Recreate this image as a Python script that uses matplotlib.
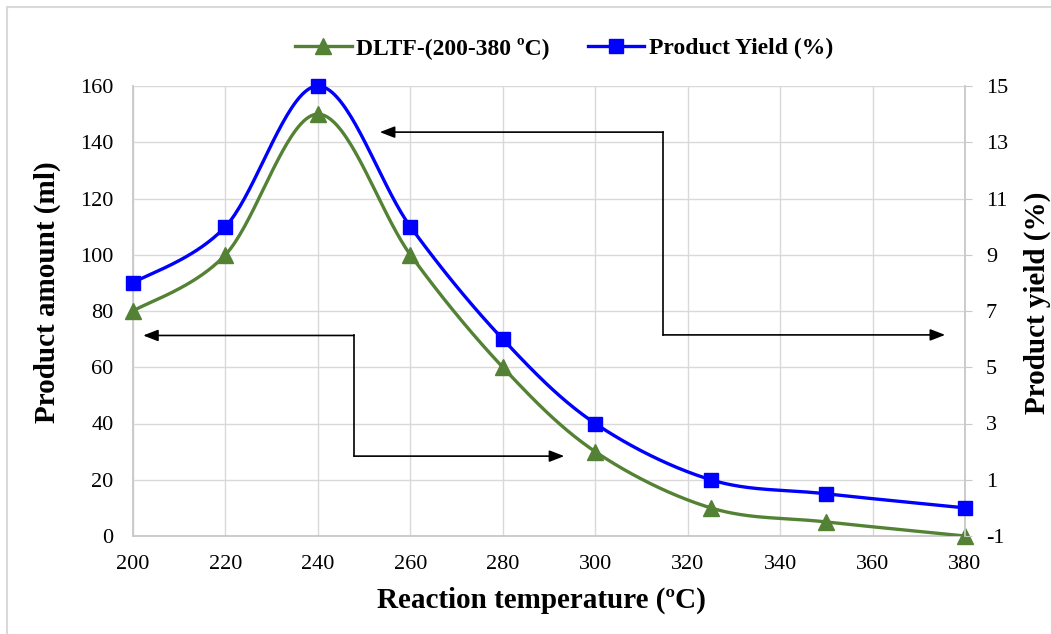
import numpy as np
import matplotlib
matplotlib.use("Agg")
import matplotlib.pyplot as plt
from matplotlib.lines import Line2D
from matplotlib.patches import Rectangle

plt.rcParams["axes.unicode_minus"] = False

# ---- data ----
temperature = [200, 220, 240, 260, 280, 300, 325, 350, 380]
dltf_amount = [80, 100, 150, 100, 60, 30, 10, 5, 0]          # ml (left axis)
product_yield = [8, 10, 15, 10, 6, 3, 1, 0.5, 0]             # % (right axis)
x_ticks = list(range(200, 381, 20))
left_ticks = list(range(0, 161, 20))
right_ticks = list(range(-1, 16, 2))

# annotation arrows (left-axis data coords): tail-corner path then tip
arrow1_path = [(247.8, 28.4), (247.8, 71.3)]
arrow1_tips = [((247.8, 71.3), (202.2, 71.3)), ((247.8, 28.4), (293.3, 28.4))]
arrow2_path = [(314.7, 143.6), (314.7, 71.5)]
arrow2_tips = [((314.7, 143.6), (253.4, 143.6)), ((314.7, 71.5), (375.7, 71.5))]

GREEN = "#548235"
BLUE = "#0000FF"
GRID = "#d9d9d9"
SERIF = "Liberation Serif"


def smooth(xs, ys, n=40):
    """Excel-like smoothing: Catmull-Rom cubic Bezier segments."""
    xs = np.asarray(xs, float)
    ys = np.asarray(ys, float)
    P = np.column_stack([xs, ys])
    out = []
    for i in range(len(P) - 1):
        p0 = P[i - 1] if i > 0 else P[i]
        p1 = P[i]
        p2 = P[i + 1]
        p3 = P[i + 2] if i + 2 < len(P) else P[i + 1]
        c1 = p1 + (p2 - p0) / 6.0
        c2 = p2 - (p3 - p1) / 6.0
        t = np.linspace(0, 1, n)[:, None]
        seg = ((1 - t) ** 3) * p1 + 3 * ((1 - t) ** 2) * t * c1 + 3 * (1 - t) * t ** 2 * c2 + t ** 3 * p2
        if i > 0:
            seg = seg[1:]
        out.append(seg)
    out = np.vstack(out)
    return out[:, 0], out[:, 1]


fig = plt.figure(figsize=(10.51, 6.34), dpi=100)
W, H = 1051, 634
ax = fig.add_axes([133 / W, 1 - 536 / H, (965 - 133) / W, (536 - 86) / H])
ax2 = ax.twinx()

# chart border
fig.patches.append(Rectangle((7 / W, -0.1), 1.2, 1 - 7 / H + 0.1, transform=fig.transFigure,
                             fill=False, edgecolor="#d9d9d9", lw=1.5, zorder=0))

ax.set_xlim(200, 380)
ax.set_ylim(0, 160)
ax2.set_ylim(-1, 15)

ax.set_xticks(x_ticks)
ax.set_yticks(left_ticks)
ax2.set_yticks(right_ticks)
ax.grid(True, color=GRID, lw=1.0)
ax.set_axisbelow(True)

for a in (ax, ax2):
    for s in a.spines.values():
        s.set_visible(False)
ax.spines["left"].set_visible(True)
ax.spines["left"].set_color("#c8c8c8")
ax.spines["left"].set_linewidth(1.3)
ax.spines["bottom"].set_visible(True)
ax.spines["bottom"].set_color("#c8c8c8")
ax.spines["bottom"].set_linewidth(1.3)
ax2.spines["right"].set_visible(True)
ax2.spines["right"].set_color("#c8c8c8")
ax2.spines["right"].set_linewidth(1.3)

ax.tick_params(axis="both", length=0, labelsize=16)
ax.tick_params(axis="y", pad=14)
ax.tick_params(axis="x", pad=14)
ax2.tick_params(axis="y", length=5, color="#c8c8c8", direction="out", labelsize=16, pad=10)
for lab in ax.get_xticklabels() + ax.get_yticklabels() + ax2.get_yticklabels():
    lab.set_fontfamily(SERIF)

# series
gx, gy = smooth(temperature, dltf_amount)
ax.plot(gx, gy, color=GREEN, lw=2.4, zorder=3, solid_capstyle="round")
ax.plot(temperature, dltf_amount, ls="none", marker="^", ms=11, color=GREEN, zorder=4, clip_on=False)

bx, by = smooth(temperature, product_yield)
ax2.plot(bx, by, color=BLUE, lw=2.4, zorder=3, solid_capstyle="round")
ax2.plot(temperature, product_yield, ls="none", marker="s", ms=10, color=BLUE, zorder=4, clip_on=False)

# arrows
aprops = dict(arrowstyle="-|>,head_length=0.9,head_width=0.35", lw=1.2, color="black",
              shrinkA=0, shrinkB=0)
for path, tips in ((arrow1_path, arrow1_tips), (arrow2_path, arrow2_tips)):
    ax.plot([p[0] for p in path], [p[1] for p in path], color="black", lw=1.2, zorder=2)
    for tail, tip in tips:
        ax.annotate("", xy=tip, xytext=tail, arrowprops=aprops, zorder=2)

# labels
fig.text(541 / W, 1 - 600 / H, "Reaction temperature (ºC)", ha="center", va="center",
         fontfamily=SERIF, fontweight="bold", fontsize=21)
fig.text(47 / W, 1 - 292 / H, "Product amount (ml)", ha="center", va="center", rotation=90,
         fontfamily=SERIF, fontweight="bold", fontsize=21)
fig.text(1037 / W, 1 - 303 / H, "Product yield (%)", ha="center", va="center", rotation=90,
         fontfamily=SERIF, fontweight="bold", fontsize=21)

# legend
handles = [Line2D([], [], color=GREEN, lw=2.4, marker="^", ms=11),
           Line2D([], [], color=BLUE, lw=2.4, marker="s", ms=10)]
leg = fig.legend(handles, ["DLTF-(200-380 ºC)", "Product Yield (%)"], loc="center",
                 bbox_to_anchor=(564 / W, 1 - 48 / H), ncol=2, frameon=False,
                 prop={"family": SERIF, "weight": "bold", "size": 17},
                 handlelength=2.4, handletextpad=0.2, columnspacing=1.6)

fig.savefig("out.png", dpi=100)
